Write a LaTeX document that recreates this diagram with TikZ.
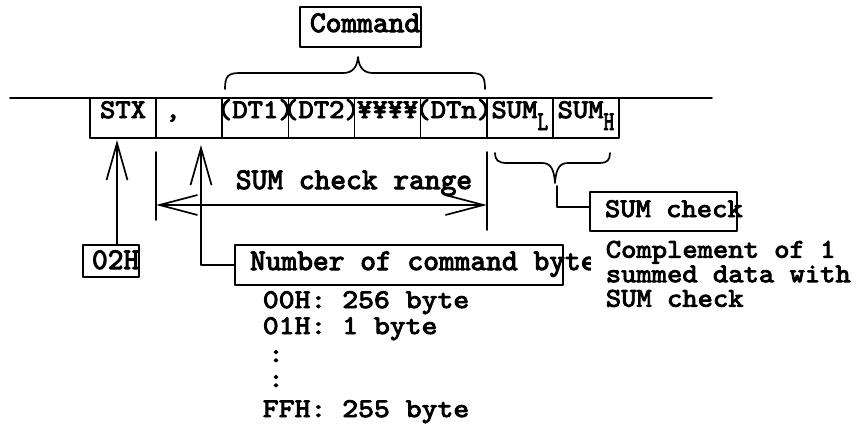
\documentclass[tikz,border=0pt]{standalone}
\usepackage{fontspec}
\usepackage{graphicx}
\usetikzlibrary{arrows.meta,calc}
% Latin Modern Mono, darkened and widened
\newfontfamily\sfnt[FakeBold=3.5,FakeStretch=1.08]{lmmono10-regular.otf}
\newfontfamily\lfnt[FakeBold=3.5,FakeStretch=1.12]{lmmono10-regular.otf}
\newfontfamily\bfnt[FakeBold=3.5,FakeStretch=1.0]{lmmono10-regular.otf}
\newcommand\smallfnt{\sfnt\fontsize{27pt}{24.5pt}\selectfont}
\newcommand\listfnt{\lfnt\fontsize{27pt}{27pt}\selectfont}
\newcommand\bigfnt{\bfnt\fontsize{30pt}{30pt}\selectfont}
\newcommand\sublow[1]{\raisebox{-12pt}{\scalebox{0.7}[1]{#1}}}
\newcommand\ctr[1]{\makebox[0pt]{#1}}
\tikzset{
  frame/.style={draw, line width=1.7pt, inner sep=0pt, outer sep=0pt},
  cell/.style={frame, minimum width=66.125pt, minimum height=40pt,
    text height=0pt, text depth=0pt, font=\smallfnt},
  txt/.style={inner sep=0pt, anchor=base west},
  barb/.tip={Straight Barb[length=37pt,width=21pt]},
}
\begin{document}
\begin{tikzpicture}[x=1pt,y=-1pt,line width=1.7pt,line cap=round,line join=round]
\fill[white] (0,0) rectangle (866,424);
\useasboundingbox (0,0) rectangle (866,424);

% frame line
\coordinate (ll) at (10,98);
\coordinate (lr) at (712,98);
\draw (ll) -- (lr);

% byte cells
\node[cell] (c1) at (123.06,118) {\ctr{STX}};
\node[cell] (c2) at (189.19,118) {\makebox[48pt][l]{,}};
\node[cell] (c3) at (255.31,118) {\ctr{(DT1)}};
\node[cell] (c4) at (321.44,118) {\ctr{(DT2)}};
\node[cell] (c5) at (387.56,118) {\ctr{¥¥¥¥}};
\node[cell] (c6) at (453.69,118) {\ctr{(DTn)}};
\node[cell] (c7) at (519.81,118) {\ctr{SUM\sublow{L}}};
\node[cell] (c8) at (585.94,118) {\ctr{SUM\sublow{H}}};

% command label and brace
\node[frame, minimum width=121pt, minimum height=40pt, text height=10pt,
  text depth=0pt, font=\bigfnt] (cmd) at (360.5,27) {\makebox[101pt][l]{Command}};
\draw (225,89) .. controls (225,76) and (228,73) .. (240,73) -- (343,73)
  .. controls (352,73) and (357,68) .. (358,57)
  .. controls (359,68) and (364,73) .. (373,73) -- (471,73)
  .. controls (482,73) and (485,76) .. (485,89);

% STX value
\node[frame, minimum width=56pt, minimum height=32pt, text height=16pt,
  text depth=0pt, font=\bigfnt] (o2h) at (111,261) {\makebox[38pt][l]{02H}};
\coordinate (t1) at (117,140);
\draw[-barb] (o2h.north -| t1) -- (t1);

% byte count
\node[frame, minimum width=328pt, minimum height=40pt, text height=10pt,
  text depth=0pt, font=\bigfnt] (ncmd) at (399,265) {\makebox[298pt][l]{Number of command byte}};
\coordinate (t2) at (201,145);
\draw[-barb] (ncmd.west) -| (t2);
\node[txt, font=\listfnt] (n00) at (262,308) {00H: 256 byte};
\node[txt, font=\listfnt] (n01) at (262,334) {01H: 1 byte};
\node[inner sep=0pt, anchor=base, font=\listfnt] (d1) at (276,362) {:};
\node[inner sep=0pt, anchor=base, font=\listfnt] (d2) at (276,387) {:};
\node[txt, font=\listfnt] (nff) at (262,417) {FFH: 255 byte};

% checksum range
\draw ($(c2.south west)+(0,14)$) -- ($(c2.south west)+(0,82)$);
\draw ($(c7.south west)+(0,14)$) -- ($(c7.south west)+(0,92)$);
\draw[{Straight Barb[length=38pt,width=20pt]}-{Straight Barb[length=38pt,width=20pt]}]
  ($(c2.south west)+(0,67)$) -- ($(c7.south west)+(0,67)$);
\node[txt, font=\bigfnt] (rng) at (235,189) {SUM check range};

% checksum bytes
\draw (495,153) .. controls (495,160) and (498,163) .. (507,163) -- (542,163)
  .. controls (550,163) and (554,168) .. (555,183)
  .. controls (556,168) and (560,163) .. (568,163) -- (600,163)
  .. controls (607,163) and (610,160) .. (610,153);
\node[frame, minimum width=147pt, minimum height=39pt, text height=11pt,
  text depth=0pt, font=\smallfnt] (sc) at (663.5,211.5) {\makebox[117pt][l]{SUM check}};
\coordinate (bt) at (557,186);
\coordinate (bk) at (557,207);
\draw (bt) -- (bk) -- (bk -| sc.west);
\node[anchor=north west, align=left, font=\smallfnt, fill=white,
  inner xsep=15pt, inner ysep=0pt] (cm) at (590,240)
  {Complement of 1\\summed data with\\SUM check};
\end{tikzpicture}
\end{document}
